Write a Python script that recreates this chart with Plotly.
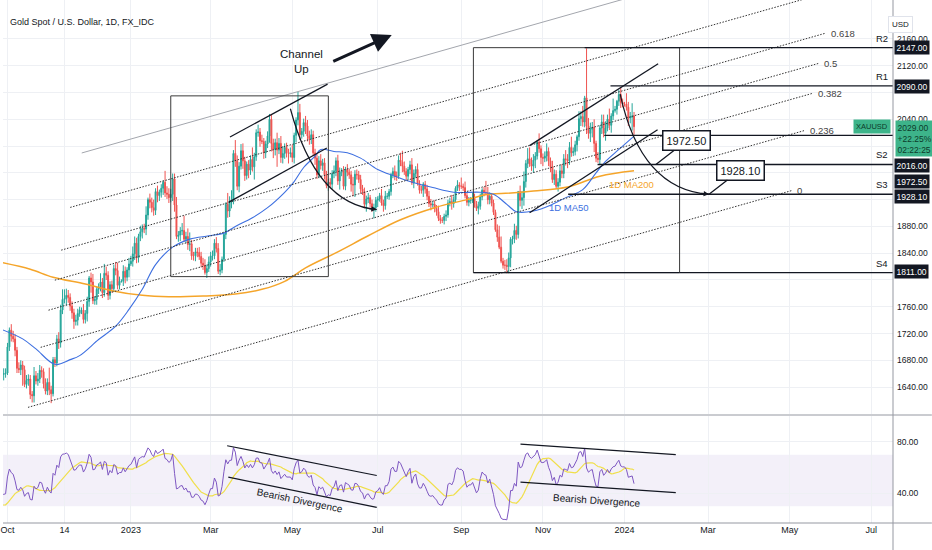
import numpy as np
import pandas as pd
import plotly.graph_objects as go

FONT = "Liberation Sans Narrow, Arial Narrow, Liberation Sans, Arial, sans-serif"
INK = "#131722"
GREEN = "#26a69a"
RED = "#ef5350"

# XAUUSD daily closes, one row per week (Mon..Fri).
# The first seven rows sit left of the visible window and only warm up the RSI.
close = [
    1779, 1776, 1761, 1758, 1747,
    1736, 1748, 1751, 1758, 1737,
    1738, 1723, 1711, 1697, 1712,
    1710, 1702, 1718, 1708, 1716,
    1724, 1702, 1697, 1665, 1675,
    1675, 1664, 1673, 1671, 1643,
    1622, 1629, 1659, 1660, 1661,
    # 2022-10-03
    1700, 1725, 1716, 1712, 1695,
    1668, 1666, 1673, 1666, 1644,
    1650, 1652, 1629, 1627, 1657,
    1649, 1652, 1665, 1663, 1645,
    1634, 1647, 1636, 1630, 1681,
    1676, 1712, 1706, 1755, 1771,
    1772, 1777, 1774, 1761, 1751,
    1738, 1740, 1750, 1755, 1755,
    1741, 1750, 1768, 1803, 1797,
    1769, 1771, 1786, 1789, 1797,
    1781, 1810, 1807, 1777, 1793,
    1787, 1817, 1814, 1792, 1798,
    1798, 1813, 1804, 1815, 1824,
    # 2023
    1828, 1839, 1855, 1833, 1865,
    1872, 1877, 1876, 1897, 1920,
    1916, 1908, 1904, 1932, 1926,
    1931, 1937, 1946, 1930, 1928,
    1923, 1928, 1951, 1912, 1865,
    1867, 1873, 1874, 1861, 1865,
    1853, 1854, 1836, 1836, 1842,
    1841, 1835, 1825, 1822, 1811,
    1817, 1827, 1836, 1836, 1855,
    1847, 1813, 1815, 1831, 1868,
    1913, 1903, 1918, 1919, 1989,
    1978, 1940, 1970, 1993, 1978,
    1956, 1973, 1964, 1980, 1969,
    1984, 2020, 2021, 2008, 2007,
    1990, 2003, 2015, 2040, 2004,
    1995, 2005, 1994, 2004, 1983,
    1989, 1998, 1990, 1989, 1990,
    1983, 2016, 2039, 2050, 2017,
    2022, 2035, 2030, 2015, 2011,
    2017, 1990, 1982, 1957, 1978,
    1971, 1975, 1957, 1941, 1946,
    1943, 1959, 1963, 1978, 1948,
    1961, 1963, 1940, 1965, 1961,
    1957, 1943, 1942, 1958, 1957,
    1950, 1936, 1932, 1913, 1921,
    1923, 1914, 1907, 1908, 1919,
    1921, 1926, 1915, 1911, 1925,
    1925, 1932, 1957, 1962, 1955,
    1955, 1979, 1976, 1970, 1962,
    1955, 1965, 1972, 1945, 1959,
    1965, 1944, 1934, 1934, 1943,
    1936, 1925, 1914, 1912, 1913,
    1907, 1902, 1892, 1889, 1889,
    1895, 1897, 1915, 1917, 1914,
    1920, 1937, 1942, 1940, 1940,
    1938, 1926, 1916, 1919, 1919,
    1922, 1913, 1907, 1910, 1924,
    1934, 1931, 1930, 1920, 1925,
    1915, 1901, 1875, 1864, 1849,
    1828, 1822, 1822, 1820, 1833,
    1861, 1861, 1874, 1868, 1932,
    1919, 1923, 1947, 1974, 1981,
    1973, 1970, 1979, 1985, 2006,
    1996, 1983, 1982, 1985, 1992,
    1978, 1969, 1950, 1958, 1940,
    1946, 1963, 1959, 1981, 1980,
    1978, 1998, 1990, 1992, 2002,
    2014, 2041, 2044, 2036, 2072,
    2030, 2019, 2025, 2028, 2004,
    1982, 1980, 2027, 2036, 2019,
    2027, 2040, 2031, 2045, 2053,
    2055, 2067, 2077, 2065, 2063,
    # 2024
    2063, 2058, 2042, 2043, 2045,
    2029,
]

# shadow lengths above the body / below the body, same layout as close
wick_up = [
    5, 8, 6, 4, 7,
    9, 5, 6, 7, 12,
    6, 8, 5, 9, 6,
    7, 5, 8, 6, 9,
    8, 10, 6, 7, 9,
    5, 8, 7, 10, 6,
    9, 6, 10, 8, 7,
    6, 4, 9, 8, 7,
    5, 9, 7, 6, 6,
    8, 7, 6, 5, 13,
    7, 9, 8, 6, 5,
    8, 6, 22, 6, 4,
    4, 6, 10, 8, 15,
    14, 10, 8, 6, 7,
    6, 8, 7, 5, 4,
    9, 5, 7, 3, 8,
    12, 5, 4, 6, 13,
    6, 14, 10, 6, 5,
    6, 6, 10, 12, 7,
    3, 9, 7, 4, 9,
    8, 11, 10, 8, 4,
    9, 6, 7, 13, 3,
    9, 7, 12, 5, 9,
    4, 6, 3, 17, 10,
    9, 8, 8, 8, 12,
    6, 6, 11, 22, 7,
    12, 17, 6, 6, 6,
    6, 8, 7, 8, 9,
    6, 8, 6, 8, 6,
    9, 8, 9, 4, 3,
    3, 17, 7, 15, 5,
    20, 8, 6, 10, 11,
    6, 4, 6, 6, 18,
    6, 5, 11, 6, 9,
    5, 5, 7, 8, 8,
    7, 6, 15, 8, 11,
    11, 6, 7, 6, 8,
    12, 4, 4, 31, 13,
    5, 6, 10, 9, 8,
    8, 6, 6, 6, 7,
    10, 6, 7, 6, 5,
    6, 5, 8, 5, 9,
    7, 4, 7, 4, 8,
    5, 6, 11, 6, 7,
    6, 7, 6, 6, 5,
    7, 4, 6, 6, 5,
    4, 4, 10, 5, 8,
    5, 4, 3, 6, 9,
    7, 7, 11, 17, 7,
    5, 4, 6, 10, 6,
    5, 9, 5, 7, 3,
    5, 6, 8, 7, 5,
    6, 5, 9, 5, 5,
    4, 7, 5, 6, 10,
    5, 3, 7, 4, 13,
    4, 9, 5, 5, 5,
    8, 7, 5, 7, 5,
    3, 5, 17, 9, 6,
    5, 5, 4, 8, 17,
    16, 5, 8, 9, 8,
    3, 5, 10, 7, 1,
    9, 10, 15, 5, 16,
    17, 10, 9, 6, 3,
    13, 5, 6, 7, 12,
    6, 5, 9, 7, 6,
    6, 9, 10, 7, 13,
    8, 8, 16, 6, 6,
    3, 11, 8, 16, 3,
    74, 12, 10, 8, 12,
    4, 9, 4, 11, 11,
    10, 7, 16, 4, 18,
    5, 2, 7, 11, 6,
    3, 16, 8, 8, 19,
    6,
]
wick_dn = [
    6, 7, 5, 8, 6,
    7, 9, 6, 5, 8,
    7, 6, 9, 8, 5,
    6, 8, 5, 7, 6,
    9, 7, 8, 10, 6,
    7, 6, 8, 5, 9,
    8, 7, 6, 9, 6,
    3, 6, 8, 5, 9,
    7, 5, 8, 24, 4,
    6, 8, 7, 10, 10,
    5, 7, 6, 9, 7,
    5, 6, 8, 14, 4,
    6, 5, 9, 7, 6,
    6, 10, 8, 7, 9,
    11, 6, 8, 5, 6,
    6, 6, 12, 8, 16,
    5, 6, 8, 7, 6,
    8, 6, 7, 7, 6,
    6, 5, 7, 6, 6,
    2, 7, 9, 6, 11,
    3, 8, 9, 8, 7,
    7, 10, 6, 9, 7,
    9, 7, 8, 7, 10,
    8, 8, 10, 6, 7,
    8, 7, 10, 10, 4,
    8, 9, 6, 4, 6,
    8, 10, 6, 7, 8,
    7, 5, 6, 7, 3,
    8, 5, 7, 7, 5,
    6, 4, 6, 5, 4,
    7, 10, 9, 11, 6,
    9, 6, 9, 5, 12,
    8, 6, 12, 7, 7,
    19, 6, 6, 9, 4,
    9, 8, 6, 10, 12,
    13, 9, 25, 6, 8,
    9, 8, 7, 15, 6,
    7, 9, 10, 8, 8,
    6, 8, 12, 8, 9,
    8, 5, 10, 6, 5,
    6, 8, 7, 4, 8,
    6, 7, 7, 8, 6,
    13, 6, 5, 6, 6,
    6, 11, 17, 18, 7,
    5, 7, 5, 6, 11,
    6, 6, 5, 15, 6,
    10, 4, 4, 9, 6,
    4, 5, 6, 5, 6,
    7, 4, 6, 9, 5,
    6, 5, 7, 3, 8,
    6, 3, 5, 5, 10,
    7, 6, 5, 8, 4,
    6, 6, 4, 5, 4,
    6, 7, 4, 5, 9,
    6, 5, 4, 7, 4,
    5, 4, 5, 6, 5,
    4, 5, 4, 9, 5,
    5, 6, 3, 7, 7,
    5, 4, 3, 7, 3,
    3, 5, 7, 10, 10,
    14, 8, 6, 8, 6,
    9, 13, 12, 9, 7,
    4, 7, 10, 12, 5,
    6, 10, 12, 6, 8,
    8, 8, 5, 8, 4,
    8, 6, 7, 7, 9,
    11, 6, 6, 5, 6,
    10, 6, 11, 7, 8,
    12, 8, 13, 12, 13,
    6, 5, 7, 9, 6,
    11, 5, 7, 11, 6,
    3, 8, 7, 8, 5,
    4, 5, 12, 8, 20,
    12,
]
assert len(close) == len(wick_up) == len(wick_dn)

FIRST_DAY = "2022-08-15"
ORIGIN_DAY = "2022-10-03"      # bar 0 of the visible window

# moving averages as drawn on the chart (bar offset from ORIGIN_DAY, price)
ma50_bar = [-3, 8, 15, 25, 33, 38, 48, 57, 64, 71, 78, 87, 96, 106, 114,
            120, 129, 137, 146, 151, 156, 162, 165, 172, 179, 186, 195, 204,
            212, 224, 235, 249, 256, 263, 268, 277, 287, 294, 303, 310, 315,
            322, 330]
ma50_val = [1726, 1712, 1697, 1674, 1681, 1687, 1711, 1731, 1756, 1786, 1823,
            1849, 1861, 1866, 1870, 1880, 1893, 1908, 1931, 1947, 1968, 1985,
            1995, 1992, 1990, 1982, 1965, 1955, 1947, 1938, 1931, 1931, 1928,
            1913, 1902, 1903, 1913, 1923, 1935, 1960, 1977, 1995, 2015]
ma200_bar = [-3, 12, 24, 41, 55, 71, 85, 103, 120, 134, 146, 157, 174, 190,
             207, 225, 242, 253, 260, 277, 295, 312, 330]
ma200_val = [1826, 1816, 1804, 1794, 1784, 1777, 1775, 1776, 1779, 1786, 1798,
             1818, 1842, 1866, 1890, 1908, 1920, 1928, 1929, 1933, 1939, 1955,
             1963]

price_ticks = [1640, 1680, 1720, 1760, 1800, 1840, 1880, 1920, 1960, 2000,
               2040, 2080, 2120, 2160]
hidden_ticks = [1800, 1920, 1960, 2000, 2080]   # sit under the price labels
rsi_ticks = [40, 80]
time_tick_days = ["2022-10-03", "2022-11-14", "2023-01-02", "2023-03-01",
                  "2023-05-01", "2023-07-03", "2023-09-01", "2023-11-01",
                  "2024-01-01", "2024-03-01", "2024-05-01", "2024-07-01"]
time_tick_text = ["Oct", "14", "2023", "Mar", "May", "Jul", "Sep", "Nov",
                  "2024", "Mar", "May", "Jul"]

# drawing tools (bar offset, price)
level_names = ["R2", "R1", "S2", "S3", "S4"]
level_prices = [2147, 2090, 1972.5, 1928.1, 1811]
ray_prices = [2147, 2090, 2016, 1972.5, 1928.1, 1811]
ray_start = [304, 317.6, 314.3, 310.8, 295.3, 354]
badge_shift = [0, -1, -30, -17, -2, 1]   # label stacking on the price scale
boxes = [(86, 169, 1805, 2075), (245.4, 354, 1811, 2147)]
trend_lines = [
    ((117.2, 2013.6), (168.6, 2092.6)),
    ((116.6, 1916.2), (168.2, 1997.2)),
    ((275.0, 2000.7), (342.7, 2122.9)),
    ((275.0, 1900.4), (342.4, 2024.5)),
]
arcs = [
    ((149.0, 2055.8), (162.5, 1912.7), (194.5, 1905.3)),
    ((322.7, 2077.7), (333.6, 1935.1), (369.5, 1928.1)),
]
callouts = [(341.5, 1972.5, "1972.50"), (369.5, 1928.1, "1928.10")]
fib_start = (10.8, 1609.7)
fib_end = (413.4, 1933.8)
fib_shift = (28.3, 380.0)
fib_levels = [0, 0.236, 0.382, 0.5, 0.618, 0.786, 1]
fib_labelled = [0, 0.236, 0.382, 0.5, 0.618]
rsi_lines = [
    ((115.7, 76.9), (194.5, 53.8)),
    ((116.3, 52.5), (194.5, 29.0)),
    ((270.2, 78.2), (352.0, 70.0)),
    ((270.2, 48.7), (352.0, 40.5)),
]
rsi_notes = [(154.1, 34.1, 11.6), (310.5, 34.6, 3.9)]

X_RANGE = [-2.36, 466.4]
Y_RANGE = [1599.8, 2218.2]
RSI_RANGE = [16.9, 100]

# ---- derived series ----
days = pd.bdate_range(FIRST_DAY, "2024-08-30")
origin = days.get_loc(pd.Timestamp(ORIGIN_DAY))
bar_x = np.arange(len(close)) - origin
tick_x = [days.get_loc(pd.Timestamp(d)) - origin for d in time_tick_days]

opens = [close[0]] + close[:-1]
highs = [max(o, c) + w for o, c, w in zip(opens, close, wick_up)]
lows = [min(o, c) - w for o, c, w in zip(opens, close, wick_dn)]

s = pd.Series(close, dtype=float)
delta = s.diff()
up = delta.clip(lower=0).ewm(alpha=1 / 14, adjust=False).mean()
dn = (-delta.clip(upper=0)).ewm(alpha=1 / 14, adjust=False).mean()
rsi = 100 - 100 / (1 + up / dn)
rsi_ma = rsi.rolling(14).mean()

fig = go.Figure()
fig.add_trace(go.Candlestick(
    x=bar_x, open=opens, high=highs, low=lows, close=close,
    increasing=dict(line=dict(color=GREEN, width=1), fillcolor=GREEN),
    decreasing=dict(line=dict(color=RED, width=1), fillcolor=RED),
    whiskerwidth=0, hoverinfo="skip", showlegend=False))
fig.add_trace(go.Scatter(x=ma200_bar, y=ma200_val, mode="lines",
                         line=dict(color="#f5a52a", width=1.5, shape="spline"),
                         hoverinfo="skip"))
fig.add_trace(go.Scatter(x=ma50_bar, y=ma50_val, mode="lines",
                         line=dict(color="#3d6fe0", width=1.1, shape="spline"),
                         hoverinfo="skip"))
fig.add_trace(go.Scatter(x=bar_x, y=rsi_ma, mode="lines", yaxis="y2",
                         line=dict(color="#f0df4a", width=1.2),
                         hoverinfo="skip"))
fig.add_trace(go.Scatter(x=bar_x, y=rsi, mode="lines", yaxis="y2",
                         line=dict(color="#7e57c2", width=1),
                         hoverinfo="skip"))

# RSI 30-70 band
fig.add_shape(type="rect", xref="paper", yref="y2", x0=0, x1=1, y0=30, y1=70,
              fillcolor="rgba(126,87,194,0.09)", line_width=0, layer="below")

# fib channel
for lvl in fib_levels:
    x0 = fib_start[0] + fib_shift[0] * lvl
    y0 = fib_start[1] + fib_shift[1] * lvl
    x1 = fib_end[0] + fib_shift[0] * lvl
    y1 = fib_end[1] + fib_shift[1] * lvl
    if lvl == 1:
        style = dict(color="#a3a6ad", width=1)
    else:
        style = dict(color="#333333", width=1, dash="1.5px,1.5px")
    fig.add_shape(type="line", xref="x", yref="y", x0=x0, y0=y0, x1=x1, y1=y1,
                  line=style)
    if lvl in fib_labelled:
        fig.add_annotation(x=x1, y=y1, xref="x", yref="y", text=f"{lvl:g}",
                           showarrow=False, xanchor="left", xshift=3,
                           font=dict(family=FONT, size=9.5, color="#444"))

for x0, x1, y0, y1 in boxes:
    fig.add_shape(type="rect", xref="x", yref="y", x0=x0, x1=x1, y0=y0, y1=y1,
                  line=dict(color="#3a3a3a", width=1))

for (x0, y0), (x1, y1) in trend_lines:
    fig.add_shape(type="line", xref="x", yref="y", x0=x0, y0=y0, x1=x1, y1=y1,
                  line=dict(color=INK, width=1.3))

for p, start in zip(ray_prices, ray_start):
    fig.add_shape(type="line", xref="x", yref="y", x0=start, x1=X_RANGE[1],
                  y0=p, y1=p, line=dict(color=INK, width=1.4))
fig.add_shape(type="line", xref="x", yref="y", x0=boxes[1][0], x1=boxes[1][1],
              y0=1811, y1=1811, line=dict(color=INK, width=1.4))

for (sx, sy), (cx, cy), (ex, ey) in arcs:
    fig.add_shape(type="path", xref="x", yref="y",
                  path=f"M {sx},{sy} Q {cx},{cy} {ex},{ey}",
                  line=dict(color=INK, width=1.2))
    fig.add_annotation(x=ex, y=ey, xref="x", yref="y", text="", ax=-9, ay=-1,
                       showarrow=True, arrowhead=2, arrowsize=0.9,
                       arrowwidth=1.2, arrowcolor=INK)

for x, y, label in callouts:
    fig.add_annotation(x=x, y=y, xref="x", yref="y", text=label, ax=31,
                       ay=-24, showarrow=True, arrowhead=0, arrowwidth=1.3,
                       arrowcolor=INK, bgcolor="white", bordercolor=INK,
                       borderwidth=1.5, borderpad=3,
                       font=dict(family=FONT, size=11, color=INK))

for (x0, y0), (x1, y1) in rsi_lines:
    fig.add_shape(type="line", xref="x", yref="y2", x0=x0, y0=y0, x1=x1,
                  y1=y1, line=dict(color=INK, width=1.2))
for x, y, ang in rsi_notes:
    fig.add_annotation(x=x, y=y, xref="x", yref="y2", text="Bearish Divergence",
                       textangle=ang, showarrow=False,
                       font=dict(family=FONT, size=10, color=INK))

# channel caption and arrow
fig.add_annotation(x=155.1, y=2126.6, xref="x", yref="y", text="Channel<br>Up",
                   showarrow=False, font=dict(family=FONT, size=11.5, color=INK))
fig.add_annotation(x=202.4, y=2166, xref="x", yref="y", text="", ax=-60, ay=27,
                   showarrow=True, arrowhead=2, arrowsize=1.3, arrowwidth=3,
                   arrowcolor=INK)

fig.add_annotation(x=295.8, y=1908.3, xref="x", yref="y", text="1D MA50",
                   showarrow=False, font=dict(family=FONT, size=9.5, color="#3d6fe0"))
fig.add_annotation(x=328.6, y=1943.3, xref="x", yref="y", text="1D MA200",
                   showarrow=False, font=dict(family=FONT, size=9.5, color="#f5a52a"))

for name, p in zip(level_names, level_prices):
    fig.add_annotation(x=890 / 893, xref="paper", y=p, yref="y", text=name,
                       showarrow=False, xanchor="right", yanchor="bottom",
                       yshift=2, font=dict(family=FONT, size=9.5, color=INK))

for p, sh in zip(ray_prices, badge_shift):
    fig.add_annotation(x=1, xref="paper", y=p, yref="y", text=f"{p:.2f}",
                       showarrow=False, xanchor="left", xshift=1, yshift=sh,
                       bgcolor="#131722", borderpad=1.5,
                       font=dict(family=FONT, size=8.5, color="white"))

last = close[-1]
fig.add_annotation(x=1, xref="paper", y=last, yref="y",
                   text=f"{last:.2f}<br>+22.25%<br>02:22:25", align="left",
                   showarrow=False, xanchor="left", yanchor="top", xshift=2,
                   yshift=7, bgcolor="#3db48a", borderpad=1.5,
                   font=dict(family=FONT, size=8.5, color="#0d3b2a"))
fig.add_annotation(x=1, xref="paper", y=last, yref="y", text="XAUUSD",
                   showarrow=False, xanchor="right", xshift=-2,
                   bgcolor="#3db48a", borderpad=2,
                   font=dict(family=FONT, size=7.5, color="#0d3b2a"))

# chart chrome
fig.add_annotation(x=5 / 893, y=(523 - 15) / 523, xref="paper", yref="paper",
                   text="Gold Spot / U.S. Dollar, 1D, FX_IDC", showarrow=False,
                   xanchor="left", font=dict(family=FONT, size=9, color=INK))
fig.add_annotation(x=913 / 893, y=(523 - 16) / 523, xref="paper", yref="paper",
                   text="USD", showarrow=False, bgcolor="white",
                   bordercolor="#e0e3eb", borderwidth=1, borderpad=3,
                   font=dict(family=FONT, size=8, color=INK))
fig.add_shape(type="line", xref="paper", yref="paper", x0=0, x1=932 / 893,
              y0=108 / 523, y1=108 / 523, line=dict(color="#9598a1", width=1))
fig.add_shape(type="line", xref="paper", yref="paper", x0=0, x1=932 / 893,
              y0=0, y1=0, line=dict(color="#9598a1", width=1))
fig.add_shape(type="line", xref="paper", yref="paper", x0=1, x1=1,
              y0=-27 / 523, y1=1, line=dict(color="#9598a1", width=1))

grid = "#eef0f4"
axis_font = dict(family=FONT, size=8.5, color=INK)
fig.update_layout(
    width=932, height=550,
    margin=dict(l=0, r=39, t=0, b=27),
    paper_bgcolor="white", plot_bgcolor="white",
    showlegend=False,
    xaxis=dict(range=X_RANGE, anchor="y2", tickvals=tick_x,
               ticktext=time_tick_text, showgrid=True, gridcolor=grid,
               zeroline=False, showline=False, ticks="",
               ticklabeloverflow="allow",
               tickfont=dict(family=FONT, size=9, color=INK),
               rangeslider=dict(visible=False)),
    yaxis=dict(domain=[109 / 523, 1], range=Y_RANGE, side="right",
               tickvals=price_ticks,
               ticktext=["" if v in hidden_ticks else f"{v:.2f}"
                         for v in price_ticks],
               showgrid=True, gridcolor=grid, zeroline=False, showline=False,
               ticks="", tickfont=axis_font, ticklabelstandoff=3),
    yaxis2=dict(domain=[0, 107 / 523], range=RSI_RANGE, side="right",
                tickvals=rsi_ticks, ticktext=[f"{v:.2f}" for v in rsi_ticks],
                showgrid=True, gridcolor=grid, zeroline=False, showline=False,
                ticks="", tickfont=axis_font, ticklabelstandoff=3),
)

# the page's default 8px body margin would push the chart off its frame
fig.write_html("out.html", config={"displayModeBar": False},
               post_script="document.body.style.margin='0px';")
